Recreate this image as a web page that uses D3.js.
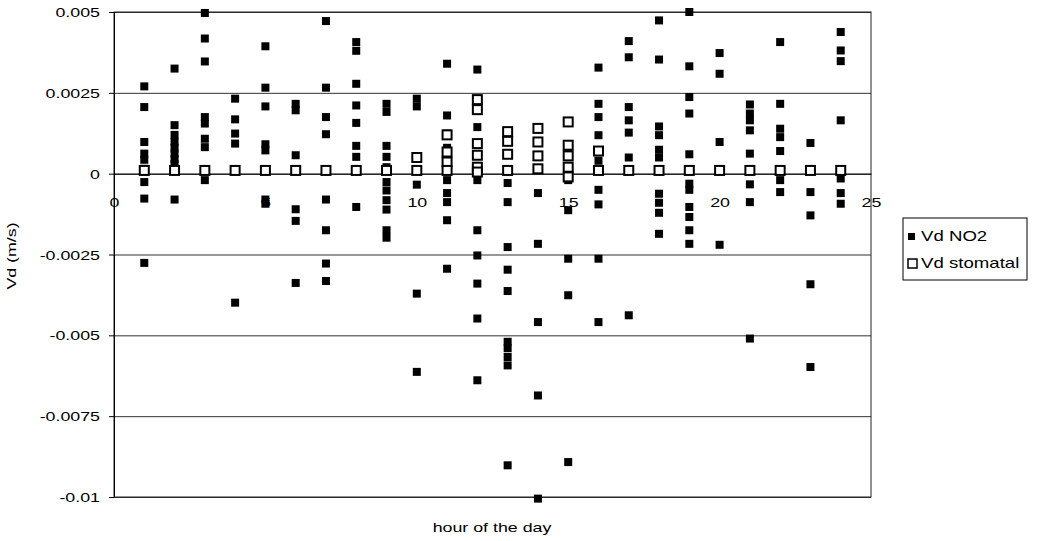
<!DOCTYPE html>
<html><head><meta charset="utf-8">
<script src="https://cdn.jsdelivr.net/npm/d3@7"></script>
<style>
body{margin:0;background:#fff}
text{font-family:"Liberation Sans",Arial,sans-serif;fill:#000}
</style>
</head><body>
<svg id="c" width="1041" height="541"></svg>
<script>
const hours = [1,2,3,4,5,6,7,8,9,10,11,12,13,14,15,16,17,18,19,20,21,22,23,24];
const no2 = [
  [0.0027,0.00206,0.00098,0.00062,0.00043,0.00015,-0.00026,-0.00077,-0.00276],
  [0.00325,0.0015,0.0012,0.00098,0.0008,0.00062,0.00045,0.0003,-0.0008],
  [0.00497,0.00418,0.00347,0.00175,0.00155,0.00108,0.00082,0.0001,-0.0002],
  [0.00232,0.00168,0.00124,0.00093,-0.00399],
  [0.00394,0.00266,0.00208,0.00091,0.00072,-0.0008,-0.00093],
  [0.00216,0.00196,0.00057,-0.0011,-0.00146,-0.00338],
  [0.00472,0.00266,0.00175,0.00122,-0.0008,-0.00175,-0.00278,-0.00332],
  [0.00407,0.0038,0.00278,0.00211,0.00157,0.00086,0.00052,-0.00103],
  [0.00216,0.00191,0.00086,0.00052,0.0002,-0.00026,-0.00052,-0.00082,-0.00111,-0.00175,-0.00198],
  [0.00232,0.00208,-0.00034,-0.00371,-0.00613],
  [0.0034,0.0018,0.00124,0.0008,0.0005,-0.0002,-0.0006,-0.00088,-0.00144,-0.00294],
  [0.00322,0.00144,-0.0002,-0.00175,-0.00253,-0.0034,-0.00448,-0.00639],
  [-0.00029,-0.00088,-0.00227,-0.00297,-0.00363,-0.0052,-0.0054,-0.00567,-0.00593,-0.00902],
  [-0.0006,-0.00217,-0.00459,-0.00686,-0.01005],
  [0.0006,-0.0002,-0.00113,-0.00263,-0.00376,-0.00892],
  [0.00328,0.00216,0.00175,0.00119,0.0004,-0.0005,-0.00095,-0.00263,-0.00459],
  [0.0041,0.0036,0.00206,0.00165,0.00127,0.0005,-0.00438],
  [0.00474,0.00353,0.00146,0.00119,0.00074,0.0005,-0.00062,-0.0009,-0.00121,-0.00186],
  [0.005,0.00332,0.00237,0.00186,0.0006,-0.00031,-0.0005,-0.00103,-0.00134,-0.00175,-0.00217],
  [0.00373,0.00309,0.00098,-0.0022],
  [0.00214,0.00186,0.00165,0.00134,0.00062,-0.00033,-0.00088,-0.0051],
  [0.00407,0.00216,0.00139,0.00113,0.0007,-0.0002,-0.00057],
  [0.00095,-0.00057,-0.00129,-0.00342,-0.00598],
  [0.00438,0.00381,0.00348,0.00165,-0.00015,-0.0006,-0.00093]
];
const stomatal = [
  [0.0001],[0.0001],[0.0001],[0.0001],[0.0001],[0.0001],[0.0001],[0.0001],[0.0001],
  [0.0005,0.0001],
  [0.0012,0.00067,0.00036,0.0001],
  [0.00229,0.00198,0.00093,0.00057,0.0002,0.00005],
  [0.0013,0.001,0.0006,0.0001],
  [0.0014,0.00098,0.00055,0.00015],
  [0.0016,0.00088,0.00055,0.0002,-0.0001],
  [0.0007,0.0001],
  [0.0001],[0.0001],[0.0001],[0.0001],[0.0001],[0.0001],[0.0001],[0.0001]
];
const xTicks = [0,5,10,15,20,25];
const yTicks = [0.005,0.0025,0,-0.0025,-0.005,-0.0075,-0.01];
const yTickLabels = ["0.005","0.0025","0","-0.0025","-0.005","-0.0075","-0.01"];
const seriesNames = ["Vd NO2","Vd stomatal"];
const xTitle = "hour of the day";
const yTitle = "Vd (m/s)";

const SX = 1.37;
const svg = d3.select("#c");
svg.append("rect").attr("width",1041).attr("height",541).attr("fill","#fff");

const x = d3.scaleLinear().domain([0,25]).range([114,871]);
const y = d3.scaleLinear().domain([-0.01,0.005]).range([497,12]);

// gridlines
const grid = svg.append("g").attr("transform",`translate(${x(0)},0)`)
  .call(d3.axisLeft(y).tickValues(yTicks).tickSize(-(x(25)-x(0))).tickFormat(""));
grid.select(".domain").remove();
grid.selectAll(".tick line").attr("stroke","#333").attr("stroke-width",1);

// plot border
svg.append("rect").attr("x",x(0)).attr("y",y(0.005)).attr("width",x(25)-x(0)).attr("height",y(-0.01)-y(0.005))
  .attr("fill","none").attr("stroke","#222").attr("stroke-width",1);

// y axis
const ya = svg.append("g").attr("transform",`translate(${x(0)},0)`)
  .call(d3.axisLeft(y).tickValues(yTicks).tickSize(5).tickSizeOuter(0).tickFormat((d,i)=>yTickLabels[i]));
ya.select(".domain").attr("stroke","#000");
ya.selectAll(".tick line").attr("stroke","#000");
ya.selectAll(".tick text").attr("x",null).attr("dy",null)
  .attr("font-size",13).attr("transform",`translate(-14,4.6) scale(${SX},1)`);

// x axis at zero
const xa = svg.append("g").attr("transform",`translate(0,${y(0)})`)
  .call(d3.axisBottom(x).tickValues(xTicks).tickSize(0).tickSizeOuter(0).tickFormat(d=>String(d)));
xa.select(".domain").attr("stroke","#000");
xa.selectAll(".tick text").attr("y",null).attr("dy",null)
  .attr("font-size",13).attr("transform",`translate(0,33) scale(${SX},1)`);

// NO2 markers
const no2Pts = hours.flatMap((h,i)=>no2[i].map(v=>({h,v})));
svg.append("g").selectAll("rect").data(no2Pts).join("rect")
  .attr("x",d=>x(d.h)-4).attr("y",d=>y(d.v)-4).attr("width",8).attr("height",8).attr("fill","#000");

// stomatal markers
const stPts = hours.flatMap((h,i)=>stomatal[i].map(v=>({h,v})));
svg.append("g").selectAll("rect").data(stPts).join("rect")
  .attr("x",d=>x(d.h)-4.5).attr("y",d=>y(d.v)-4.5).attr("width",9).attr("height",9)
  .attr("fill","#fff").attr("stroke","#000").attr("stroke-width",2);

// axis titles
svg.append("text").attr("text-anchor","middle").attr("font-size",13)
  .attr("transform",`translate(492,532) scale(${SX},1)`).text(xTitle);
svg.append("text").attr("text-anchor","middle").attr("font-size",13)
  .attr("transform",`translate(16,256) rotate(-90) scale(${SX},1)`).text(yTitle);

// legend
const lg = svg.append("g");
lg.append("rect").attr("x",903).attr("y",218).attr("width",124).attr("height",62)
  .attr("fill","#fff").attr("stroke","#000").attr("stroke-width",1);
lg.append("rect").attr("x",908).attr("y",233).attr("width",7).attr("height",7).attr("fill","#000");
lg.append("rect").attr("x",908).attr("y",259).attr("width",9).attr("height",9)
  .attr("fill","#fff").attr("stroke","#000").attr("stroke-width",1.5);
lg.selectAll("text.lt").data(seriesNames).join("text").attr("class","lt")
  .attr("font-size",14)
  .attr("transform",(d,i)=>`translate(921,${241+i*27}) scale(1.33,1)`).text(d=>d);
</script>
</body></html>
